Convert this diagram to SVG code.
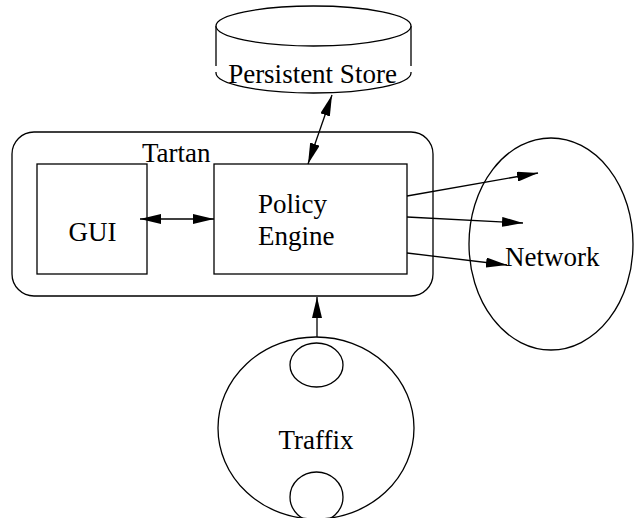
<svg xmlns="http://www.w3.org/2000/svg" width="635" height="518" viewBox="0 0 635 518">
<style>
.s{fill:none;stroke:#000;stroke-width:1.3}
.w{fill:#fff;stroke:#000;stroke-width:1.3}
text{font-family:'Liberation Serif','Times New Roman',serif;font-size:27px;fill:#000}
.c{stroke:#000;stroke-width:1.3;fill:none}
</style>
<defs>
<marker id="ah" viewBox="0 0 21 10" markerWidth="21" markerHeight="10" refX="21" refY="5" orient="auto-start-reverse" markerUnits="userSpaceOnUse">
<path d="M0,0 L21,5 L0,10 z" fill="#000"/>
</marker>
</defs>
<rect width="635" height="518" fill="#fff"/>
<g id="store">
<path class="w" d="M216,26 L216,73 A97.5,20 0 0 0 411,73 L411,26"/>
<ellipse class="w" cx="313.5" cy="26" rx="97.5" ry="20"/>
<rect x="213" y="66" width="201" height="6" fill="#fff"/>
<text x="312.5" y="83" text-anchor="middle">Persistent Store</text>
</g>
<g id="tartan">
<rect class="s" x="12" y="132" width="421" height="164" rx="22" ry="22"/>
<text x="142" y="162">Tartan</text>
</g>
<g id="gui">
<rect class="s" x="37" y="164" width="110" height="110"/>
<text x="92.5" y="241" text-anchor="middle">GUI</text>
</g>
<g id="policy">
<rect class="s" x="214" y="164" width="193" height="110"/>
<text x="258" y="213">Policy</text>
<text x="258" y="245">Engine</text>
</g>
<g id="network">
<ellipse class="s" cx="551" cy="244" rx="82" ry="106"/>
<text x="505" y="266">Network</text>
</g>
<g id="traffix">
<ellipse class="s" cx="316" cy="428" rx="98" ry="91"/>
<ellipse class="s" cx="316.5" cy="365" rx="26.5" ry="22"/>
<ellipse class="s" cx="316.5" cy="497" rx="26.5" ry="25"/>
<text x="316" y="449" text-anchor="middle">Traffix</text>
</g>
<g id="connectors">
<line class="c" x1="140" y1="219" x2="214" y2="219" marker-start="url(#ah)" marker-end="url(#ah)"/>
<line class="c" x1="332" y1="95" x2="308" y2="164" marker-start="url(#ah)" marker-end="url(#ah)"/>
<line class="c" x1="407" y1="196" x2="538" y2="173" marker-end="url(#ah)"/>
<line class="c" x1="407" y1="217" x2="523" y2="223" marker-end="url(#ah)"/>
<line class="c" x1="407" y1="253" x2="507" y2="265" marker-end="url(#ah)"/>
<line class="c" x1="317" y1="337" x2="317" y2="297" marker-end="url(#ah)"/>
</g>
</svg>
